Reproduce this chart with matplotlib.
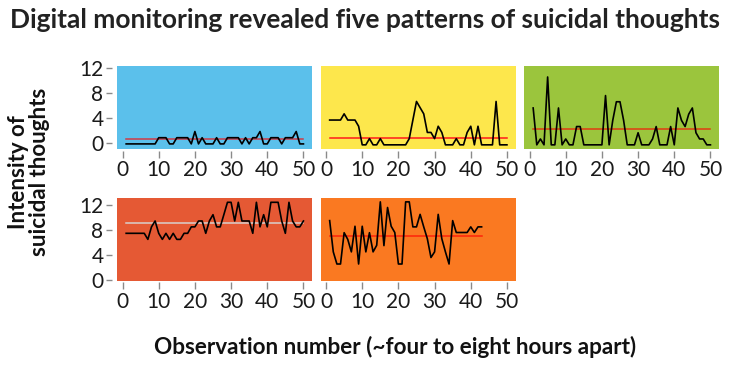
import matplotlib
matplotlib.use("Agg")
import matplotlib.pyplot as plt
import numpy as np

plt.rcParams['font.family'] = ['Lato', 'DejaVu Sans']

# ---------------- data ----------------
colors = ["#5BC0EB", "#FDE74C", "#9BC53D", "#E55934", "#FA7921"]
mean_colors = ["#CE3A46", "#FF1A1A", "#E13B12", "#D8CFCC", "#FE240A"]

obs_50 = list(range(1, 51))
obs_43 = list(range(1, 44))

p1 = [-0.2]*9 + [0.8, 0.8, 0.8, -0.2, -0.2, 0.8, 0.8, 0.8, 0.8, -0.2, 1.8,
      -0.2, 0.8, -0.2, -0.2, -0.2, 0.8, -0.2, -0.2, 0.8, 0.8, 0.8, 0.8, -0.2,
      0.8, -0.2, 0.8, 0.8, 1.8, -0.2, -0.2, 0.8, 0.8, 0.8, -0.2, 0.8, 0.8,
      0.8, 1.8, -0.2, -0.2]
p2 = [3.65, 3.65, 3.65, 3.65, 4.65, 3.65, 3.65, 3.65, 2.65, -0.35,
      -0.35, 0.65, -0.35, -0.35, 0.65, -0.35, -0.35, -0.35, -0.35, -0.35,
      -0.35, -0.35, 0.65, 3.65, 6.65, 5.65, 4.65, 1.65, 1.65, 0.65,
      2.65, 1.65, -0.35, -0.35, -0.35, 0.65, -0.35, -0.35, 1.65, 2.65,
      -0.35, 2.65, -0.35, -0.35, -0.35, -0.35, 6.65, -0.35, -0.35, -0.35]
p3 = [5.6, -0.35, 0.6, -0.35, 10.6, -0.35, -0.35, 5.6, -0.35, 0.6,
      -0.35, -0.35, 2.6, 2.6, -0.35, -0.35, -0.35, -0.35, -0.35, -0.35,
      7.6, -0.35, 3.6, 6.6, 6.6, 3.6, -0.35, -0.35, -0.35, 1.6,
      -0.35, -0.35, -0.35, 0.6, 2.6, -0.35, -0.35, -0.35, 2.6, -0.35,
      5.6, 3.6, 2.6, 4.6, 5.6, 1.6, 0.6, 0.6, -0.35, -0.35]
p4 = [7.47, 7.47, 7.47, 7.47, 7.47, 7.47, 6.5, 8.5, 9.44, 7.47,
      6.5, 7.47, 6.5, 7.47, 6.5, 6.5, 7.47, 7.47, 8.5, 8.5,
      9.44, 9.44, 7.47, 9.44, 10.45, 8.5, 8.5, 10.45, 12.43, 12.43,
      9.44, 12.43, 9.44, 9.44, 9.44, 7.47, 12.43, 8.5, 10.45, 8.5,
      12.43, 12.43, 12.43, 9.44, 7.47, 12.43, 9.44, 8.5, 8.5, 9.44]
p5 = [9.5, 4.5, 2.56, 2.56, 7.57, 6.5, 4.5, 8.6, 2.56, 8.6,
      4.5, 7.57, 4.5, 5.55, 12.5, 5.5, 11.6, 8.6, 7.6, 2.56,
      2.56, 12.5, 12.5, 8.5, 8.5, 10.5, 8.5, 6.6, 3.6, 4.5,
      10.5, 6.6, 4.5, 2.56, 9.5, 7.6, 7.6, 7.6, 7.6, 8.5,
      7.6, 8.5, 8.5]

means = [0.6, 0.76, 2.26, 9.07, 7.04]
series = [(obs_50, p1), (obs_50, p2), (obs_50, p3), (obs_50, p4), (obs_43, p5)]

x_ticks = [0, 10, 20, 30, 40, 50]
y_ticks = [0, 4, 8, 12]

title = "Digital monitoring revealed five patterns of suicidal thoughts"
ylabel = "Intensity of\nsuicidal thoughts"
xlabel = "Observation number (~four to eight hours apart)"

# ---------------- layout ----------------
W, H = 730, 367
fig = plt.figure(figsize=(W/100, H/100), dpi=100)

lefts = [117.3, 320.8, 524.3]
pw = 195
rows = [(66.0, 149.3, (-1.07, 12.37)), (198.3, 280.7, (-0.11, 13.07))]
positions = [(0, 0), (0, 1), (0, 2), (1, 0), (1, 1)]

tick_col = "#8a8a8a"
lab_col = "#1a1a1a"

for i, (r, c) in enumerate(positions):
    top, bot, ylim = rows[r]
    ax = fig.add_axes([lefts[c]/W, 1 - bot/H, pw/W, (bot - top)/H])
    ax.set_facecolor(colors[i])
    x, y = series[i]
    ax.axhline(means[i], xmin=(1 - (-1.45)) / (52.45 + 1.45),
               xmax=(x[-1] + 1.45) / (52.45 + 1.45),
               color=mean_colors[i], lw=1.1, zorder=2)
    ax.plot(x, y, color="black", lw=1.2, zorder=3)
    ax.set_xlim(-1.45, 52.45)
    ax.set_ylim(*ylim)
    for s in ax.spines.values():
        s.set_visible(False)
    ax.spines['bottom'].set_position(('outward', 1))
    ax.spines['left'].set_position(('outward', 4))
    ax.set_xticks(x_ticks)
    ax.set_xticklabels([str(t) for t in x_ticks])
    ax.tick_params(axis='x', length=5, width=1, color=tick_col, pad=2,
                   labelsize=15, labelcolor=lab_col)
    if c == 0:
        ax.set_yticks(y_ticks)
        ax.set_yticklabels([str(t) for t in y_ticks])
        ax.tick_params(axis='y', length=4, width=1, color=tick_col, pad=2,
                       labelsize=15, labelcolor=lab_col)
    else:
        ax.set_yticks([])

fig.text(365/W, 1 - 20/H, title, ha='center', va='center', fontsize=19,
         fontweight='bold', color='#222222')
fig.text(29/W, 1 - 172/H, ylabel, ha='center', va='center', rotation=90,
         fontsize=16, fontweight='bold', color='#111111', multialignment='center',
         linespacing=1.0)
fig.text(395/W, 1 - 347/H, xlabel, ha='center', va='center', fontsize=16.2,
         fontweight='bold', color='#111111')

fig.savefig("out.png", dpi=100, facecolor='white')
